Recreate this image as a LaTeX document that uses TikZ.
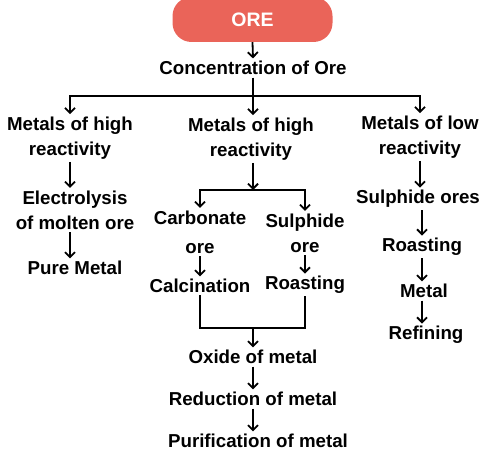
\documentclass[tikz,border=0pt]{standalone}
\usepackage{fontspec}
\setmainfont{Liberation Sans}
\usetikzlibrary{arrows.meta}
\definecolor{orered}{HTML}{EA6459}
\begin{document}
\begin{tikzpicture}[x=1pt,y=-1pt,
  lbl/.style={font=\bfseries\fontsize{18.7}{25}\selectfont, align=center, inner sep=2.5pt},
  arr/.style={-{Straight Barb[length=5pt,width=10pt,line width=1.8pt]}, line width=1.8pt},
  ln/.style={line width=1.8pt, line cap=rect}]
\useasboundingbox (0,0) rectangle (496,468);
\node[fill=orered, rounded corners=19pt, minimum width=160pt, minimum height=45pt, inner sep=0pt,
      font=\bfseries\fontsize{19.5}{22}\selectfont, text=white] (ore) at (252.5,19.5) {ORE};
\node[lbl] (conc) at (253,68) {Concentration of Ore};
\node[lbl] (m1) at (70,138) {Metals of high\\reactivity};
\node[lbl] (m2) at (251,139) {Metals of high\\reactivity};
\node[lbl] (m3) at (420,137) {Metals of low\\reactivity};
\node[lbl] (el) at (75,210) {Electrolysis\\of molten ore};
\node[lbl] (pure) at (75,268) {Pure Metal};
\node[lbl] (carb) at (200,232) {Carbonate\\[4pt]ore};
\node[lbl] (sulph) at (305,233) {Sulphide\\ore};
\node[lbl] (calc) at (200,286) {Calcination};
\node[lbl] (roast1) at (305,285) {Roasting};
\node[lbl] (oxide) at (253,357) {Oxide of metal};
\node[lbl] (red) at (253,399) {Reduction of metal};
\node[lbl] (puri) at (258,441) {Purification of metal};
\node[lbl] (sores) at (418,199) {Sulphide ores};
\node[lbl] (roast2) at (422,247) {Roasting};
\node[lbl] (metal) at (424,291) {Metal};
\node[lbl] (ref) at (426,335) {Refining};
\coordinate (jA) at (253,96);
\coordinate (jB) at (253,190);
\coordinate (jC) at (253,328);
% top
\draw[arr] (ore.south) -- (conc.north);
\draw[line width=1.8pt] (conc.south) -- (jA);
\draw[ln] (m1.north |- jA) -- (m3.north |- jA);
\draw[arr] (m1.north |- jA) -- (m1.north);
\draw[arr] (jA) -- (jA |- m2.north);
\draw[arr] (m3.north |- jA) -- (m3.north);
% left column
\draw[arr] (m1.south) -- (m1.south |- el.north);
\draw[arr] (el.south -| m1.south) -- (pure.north -| m1.south);
% middle column
\draw[arr] (jB |- m2.south) -- (jB);
\draw[ln] (carb.north |- jB) -- (sulph.north |- jB);
\draw[arr] (carb.north |- jB) -- (carb.north);
\draw[arr] (sulph.north |- jB) -- (sulph.north);
\draw[arr] (carb.south) -- (calc.north);
\draw[arr] (sulph.south) -- (roast1.north);
\draw[ln] (calc.south) -- (calc.south |- jC) -- (roast1.south |- jC) -- (roast1.south);
\draw[arr] (jC) -- (oxide.north);
\draw[arr] (oxide.south) -- (red.north);
\draw[arr] (red.south) -- (puri.north -| red.south);
% right column
\draw[arr] (m3.south) -- (m3.south |- sores.north);
\draw[arr] (sores.south -| roast2.north) -- (roast2.north);
\draw[arr] (roast2.south) -- (metal.north -| roast2.south);
\draw[arr] (metal.south -| roast2.south) -- (ref.north -| roast2.south);
\end{tikzpicture}
\end{document}
